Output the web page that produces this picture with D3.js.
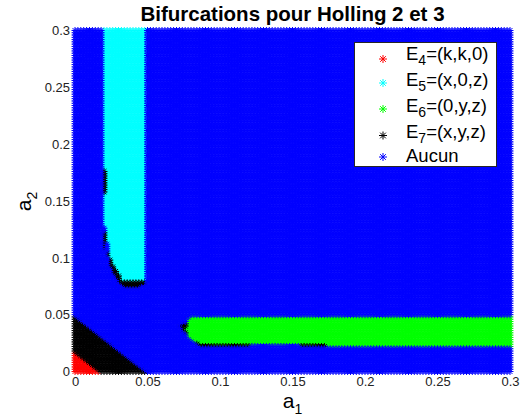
<!DOCTYPE html>
<html>
<head>
<meta charset="utf-8">
<script src="https://cdn.jsdelivr.net/npm/d3@7"></script>
<style>
  body { margin: 0; background: #fff; }
  svg { display: block; }
  text { font-family: "Liberation Sans", Arial, Helvetica, sans-serif; }
</style>
</head>
<body>
<svg id="chart" width="524" height="416"></svg>
<script>
// Sampling grid of the parameter plane (a1, a2), step 0.002
const a1Values = d3.range(0, 0.3 + 1e-9, 0.002);
const a2Values = d3.range(0, 0.3 + 1e-9, 0.002);

// Equilibrium categories, in drawing order (later ones are drawn on top)
const seriesKeys   = ["E4", "E5", "E6", "E7", "none"];
const seriesColors = ["#ff0000", "#00ffff", "#00ff00", "#000000", "#0000ff"];
const legendBase   = ["E", "E", "E", "E", "Aucun"];
const legendSub    = ["4", "5", "6", "7", ""];
const legendRest   = ["=(k,k,0)", "=(x,0,z)", "=(0,y,z)", "=(x,y,z)", ""];

// Region boundaries in the (a1, a2) plane
const regionE4 = [[-0.001, -0.001], [0.018, -0.001], [-0.001, 0.018]];
const regionE7Corner = [[-0.001, -0.001], [0.050, -0.001], [-0.001, 0.050]];
const regionE5 = [[0.0195, 0.301], [0.0485, 0.301], [0.0485, 0.0795], [0.0322, 0.0795],
                  [0.0276, 0.089], [0.0241, 0.098], [0.0207, 0.122], [0.0195, 0.13]];
const regionE6 = [[0.0785, 0.0485], [0.301, 0.0485], [0.301, 0.021], [0.1735, 0.021],
                  [0.1735, 0.023], [0.086, 0.023], [0.081, 0.026], [0.077, 0.031],
                  [0.0755, 0.036], [0.077, 0.042]];
const regionsE7Edges = [
  [[0.019, 0.157], [0.021, 0.157], [0.021, 0.177], [0.019, 0.177]],
  [[0.019, 0.108], [0.0215, 0.108], [0.0215, 0.124], [0.019, 0.124]],
  [[0.0215, 0.103], [0.0235, 0.0925], [0.0265, 0.0845], [0.031, 0.0755], [0.035, 0.0735],
   [0.044, 0.0735], [0.0485, 0.0755], [0.0485, 0.0795], [0.0322, 0.0795], [0.0276, 0.089],
   [0.0241, 0.098], [0.0225, 0.106]],
  [[0.0715, 0.040], [0.075, 0.034], [0.079, 0.027], [0.083, 0.0235], [0.086, 0.0235],
   [0.081, 0.026], [0.077, 0.031], [0.0755, 0.036], [0.077, 0.042], [0.074, 0.043]],
  [[0.085, 0.0215], [0.1215, 0.0215], [0.1215, 0.0225], [0.085, 0.0225]],
  [[0.155, 0.0215], [0.1735, 0.0215], [0.1735, 0.0225], [0.155, 0.0225]]
];

const xTickValues = [0, 0.05, 0.1, 0.15, 0.2, 0.25, 0.3];
const xTickLabels = ["0", "0.05", "0.1", "0.15", "0.2", "0.25", "0.3"];
const yTickValues = [0, 0.05, 0.1, 0.15, 0.2, 0.25, 0.3];
const yTickLabels = ["0", "0.05", "0.1", "0.15", "0.2", "0.25", "0.3"];

const svg = d3.select("#chart");
const x = d3.scaleLinear().domain([0, 0.3]).range([75, 510]);
const y = d3.scaleLinear().domain([0, 0.3]).range([371.5, 30.5]);

function classify(a1, a2) {
  const p = [a1, a2];
  if (regionsE7Edges.some(r => d3.polygonContains(r, p))) return "E7";
  if (d3.polygonContains(regionE4, p)) return "E4";
  if (d3.polygonContains(regionE7Corner, p)) return "E7";
  if (d3.polygonContains(regionE5, p)) return "E5";
  if (d3.polygonContains(regionE6, p)) return "E6";
  return "none";
}

const points = [];
a2Values.forEach(a2 => a1Values.forEach(a1 => points.push({ a1, a2, k: classify(a1, a2) })));

// asterisk marker: plus + cross
function asterisk(r) {
  const d = r * Math.SQRT1_2;
  return `M${-r},0L${r},0M0,${-r}L0,${r}M${-d},${-d}L${d},${d}M${-d},${d}L${d},${-d}`;
}
const markR = 3.5;

const plot = svg.append("g");
seriesKeys.forEach((key, i) => {
  const pts = points.filter(p => p.k === key);
  const path = d3.path();
  pts.forEach(p => {
    const cx = x(p.a1), cy = y(p.a2), r = markR, d = r * Math.SQRT1_2;
    path.moveTo(cx - r, cy); path.lineTo(cx + r, cy);
    path.moveTo(cx, cy - r); path.lineTo(cx, cy + r);
    path.moveTo(cx - d, cy - d); path.lineTo(cx + d, cy + d);
    path.moveTo(cx - d, cy + d); path.lineTo(cx + d, cy - d);
  });
  plot.append("path")
    .attr("class", "series-" + key)
    .attr("d", path.toString())
    .attr("fill", "none")
    .attr("stroke", seriesColors[i])
    .attr("stroke-width", 1);
});

// axes
const xAxis = svg.append("g")
  .attr("transform", `translate(0,${y(0)})`)
  .call(d3.axisBottom(x).tickValues(xTickValues)
    .tickFormat((d, i) => xTickLabels[i]).tickSize(0).tickPadding(5));
const yAxis = svg.append("g")
  .attr("transform", `translate(${x(0)},0)`)
  .call(d3.axisLeft(y).tickValues(yTickValues)
    .tickFormat((d, i) => yTickLabels[i]).tickSize(0).tickPadding(5));
[xAxis, yAxis].forEach(g => {
  g.select(".domain").remove();
  g.selectAll("text")
    .attr("font-size", 13)
    .attr("fill", "#222")
    .attr("font-family", '"Liberation Sans", Arial, sans-serif');
});

// title
svg.append("text")
  .attr("x", 292.5).attr("y", 21)
  .attr("text-anchor", "middle")
  .attr("font-size", 20.5)
  .attr("font-weight", "bold")
  .attr("fill", "#000")
  .text("Bifurcations pour Holling 2 et 3");

// axis labels
const xl = svg.append("text")
  .attr("x", 292.5).attr("y", 408)
  .attr("text-anchor", "middle")
  .attr("font-size", 21).attr("fill", "#000");
xl.append("tspan").text("a");
xl.append("tspan").attr("font-size", 14).attr("dy", 6).text("1");

const yl = svg.append("text")
  .attr("transform", `translate(31,${201.5}) rotate(-90)`)
  .attr("text-anchor", "middle")
  .attr("font-size", 21).attr("fill", "#000");
yl.append("tspan").text("a");
yl.append("tspan").attr("font-size", 14).attr("dy", 6).text("2");

// legend
const legend = svg.append("g");
legend.append("rect")
  .attr("x", 354.5).attr("y", 42.5)
  .attr("width", 142).attr("height", 124)
  .attr("fill", "#fff")
  .attr("stroke", "#262626")
  .attr("stroke-width", 1);
const markerY = [59, 83, 109, 135.5, 157];
const textY = [59.5, 85.5, 111.5, 137.5, 162];
seriesKeys.forEach((key, i) => {
  legend.append("path")
    .attr("transform", `translate(383,${markerY[i]})`)
    .attr("d", asterisk(4))
    .attr("fill", "none")
    .attr("stroke", seriesColors[i])
    .attr("stroke-width", 1);
  const t = legend.append("text")
    .attr("x", 406).attr("y", textY[i])
    .attr("font-size", 18.5).attr("fill", "#000");
  t.append("tspan").text(legendBase[i]);
  if (legendSub[i]) {
    t.append("tspan").attr("font-size", 14).attr("dy", 5).text(legendSub[i]);
    t.append("tspan").attr("dy", -5).text(legendRest[i]);
  }
});
</script>
</body>
</html>
